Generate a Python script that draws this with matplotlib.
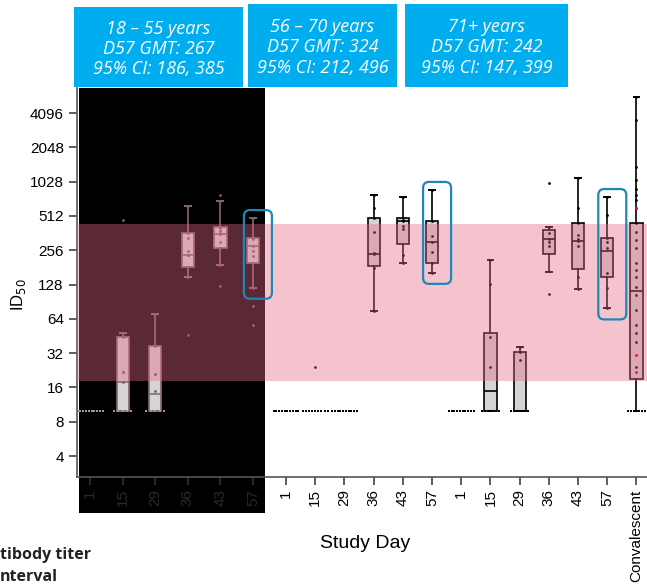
import matplotlib
matplotlib.use('Agg')
import matplotlib.pyplot as plt
import numpy as np
from matplotlib.patches import Rectangle, FancyBboxPatch
from matplotlib.transforms import IdentityTransform

# ---- data (ID50 values) ----
day_labels = ['1', '15', '29', '36', '43', '57'] * 3 + ['Convalescent']
med    = [10, 18, 14, 232, 354, 278, 10, 10, 10, 237, 461, 302, 10, 15, 10, 322, 309, 252, 112]
q1     = [10, 10, 10, 182, 267, 198, 10, 10, 10, 186, 290, 198, 10, 10, 10, 237, 175, 149, 19]
q3     = [10, 44, 37, 362, 410, 328, 10, 10, 10, 491, 491, 461, 10, 48, 33, 385, 443, 328, 443]
whislo = [10, 10, 10, 149, 190, 120, 10, 10, 10, 75, 198, 162, 10, 10, 10, 165, 117, 79, 10]
whishi = [10, 48, 70, 626, 690, 490, 10, 10, 10, 782, 750, 866, 10, 210, 36, 410, 1100, 750, 5680]
floor_n = [10, 5, 5, 0, 0, 0, 10, 9, 10, 0, 0, 0, 10, 6, 7, 0, 0, 0, 7]
points = [
  [],
  [44, 22, 22, 18, 48, 471],
  [21, 21, 15, 37, 70],
  [232, 232, 250, 330, 360, 626, 149, 46],
  [354, 380, 400, 300, 267, 690, 780, 190, 124],
  [278, 250, 230, 320, 490, 120, 83, 57],
  [],
  [24],
  [],
  [370, 237, 240, 600, 180, 75, 782, 491],
  [393, 232, 461, 491, 750, 198, 420],
  [340, 247, 302, 866, 162, 461, 198],
  [],
  [129, 44, 24, 210],
  [28, 36, 33],
  [996, 106, 410, 360, 300, 280, 322],
  [1100, 600, 350, 310, 320, 280, 117, 150, 443],
  [750, 520, 330, 300, 270, 160, 120, 80],
  [3560, 1380, 1060, 890, 780, 705, 440, 372, 315, 267, 197, 171, 150, 123,
   104, 76, 56, 48, 40, 24, 5680],
]
conv_red = [596, 31, 22]
LLOQ = 10
band = (18.4, 436)
highlight = [5, 11, 17]  # day 57 of each age group
groups = ['18 \u2013 55 years\nD57 GMT: 267\n95% CI: 186, 385',
          '56 \u2013 70 years\nD57 GMT: 324\n95% CI: 212, 496',
          '71+ years\nD57 GMT: 242\n95% CI: 147, 399']
yticks = [4, 8, 16, 32, 64, 128, 256, 512, 1024, 2048, 4096]
ytick_labels = ['4', '8', '16', '32', '64', '128', '256', '512', '1028', '2048', '4096']

W, H = 647, 587
fig = plt.figure(figsize=(W / 100, H / 100), dpi=100)
plt.rcParams['font.family'] = ['Liberation Sans', 'DejaVu Sans']


def fr(x0, y0, x1, y1):
  """pixel box (top-left origin) -> figure fraction rect"""
  return [x0 / W, 1 - y1 / H, (x1 - x0) / W, (y1 - y0) / H]


ax = fig.add_axes(fr(77, 88, 647, 477))
# first age group panel was pasted at a slightly wider spacing
pos = np.r_[np.arange(6) * 1.115 - 0.71, np.arange(6, 19)]
g1 = np.arange(19) < 6

ax.set_yscale('log', base=2)
ax.set_ylim(2.62, 6790)
ax.set_xlim(-1.16, 18.36)

# black overlay on first group (drawn under everything)
ax.add_patch(Rectangle((0.004, -0.093), 0.326, 1.093, transform=ax.transAxes,
                       facecolor='black', edgecolor='none', zorder=0, clip_on=False))

stats, bpos, bg1 = [], [], []
for i in range(19):
  if q3[i] <= LLOQ:
    continue
  stats.append(dict(med=med[i], q1=q1[i], q3=q3[i], whislo=whislo[i],
                    whishi=whishi[i], fliers=[]))
  bpos.append(pos[i]); bg1.append(g1[i])
for s, p, dark in zip(stats, bpos, bg1):
  lc = '#8a6870' if dark else 'black'
  ax.bxp([s], positions=[p], widths=0.42, capwidths=0.2, patch_artist=True,
         manage_ticks=False, zorder=2,
         boxprops=dict(facecolor='#d4d4d4', edgecolor=lc, lw=1.2),
         whiskerprops=dict(color=lc, lw=1.2), capprops=dict(color=lc, lw=1.4),
         medianprops=dict(color=lc, lw=1.2))

for i in range(19):
  pc = '#7a6066' if g1[i] else 'black'
  if points[i]:
    ax.scatter(np.full(len(points[i]), pos[i]), points[i], s=4, color=pc,
               zorder=2.2, linewidths=0)
  n = floor_n[i]
  if n:
    spread = 0.85 if n >= 9 else 0.6
    xs = pos[i] + np.linspace(-spread / 2, spread / 2, n)
    ax.scatter(xs, np.full(n, LLOQ), s=2.5, marker='s', linewidths=0, zorder=2.2,
               color='#9a9a9a' if g1[i] else 'black')
ax.scatter(np.full(len(conv_red), pos[18]), conv_red, s=5, color='red',
           zorder=2.3, linewidths=0)

ax.axhspan(band[0], band[1], color=(230 / 255, 105 / 255, 130 / 255), alpha=0.4,
           lw=0, zorder=3)

# blue highlight around day 57
for i in highlight:
  x0, y0 = ax.transData.transform((pos[i], whislo[i]))
  _, y1 = ax.transData.transform((pos[i], whishi[i]))
  ax.add_patch(FancyBboxPatch((x0 - 9, y0 - 11), 28, (y1 - y0) + 19,
                              boxstyle='round,pad=0,rounding_size=6',
                              transform=IdentityTransform(), fill=False,
                              edgecolor='#1f86b8', lw=1.6, zorder=4))

ax.set_yticks(yticks)
ax.set_yticklabels(ytick_labels)
ax.yaxis.set_minor_locator(matplotlib.ticker.NullLocator())
ax.set_xticks(pos)
ax.set_xticklabels(day_labels, rotation=90)
ax.tick_params(axis='both', labelsize=11, length=6, width=1.1, color='#333333')
ax.tick_params(axis='x', pad=3)
for k, lab in enumerate(ax.get_xticklabels()):
  if g1[k]:
    lab.set_color('#2a2a2a')
for k, t in enumerate(ax.xaxis.get_major_ticks()):
  if g1[k]:
    t.tick1line.set_color('#2a2a2a')
for s in ['top', 'right']:
  ax.spines[s].set_visible(False)
for s in ['left', 'bottom']:
  ax.spines[s].set_color('#555555')
  ax.spines[s].set_linewidth(1.2)

fig.text(18 / W, 1 - 295 / H, 'ID$_{50}$', rotation=90, ha='center', va='center',
         fontsize=12)
fig.text(365 / W, 1 - 543 / H, 'Study Day', ha='center', va='center', fontsize=14)

# age-group header boxes
for txt, (x0, y0, x1, y1) in zip(groups, [(74, 7, 243, 87), (248, 4, 397, 87),
                                          (405, 4, 568, 87)]):
  fig.patches.append(Rectangle(fr(x0, y0, x1, y1)[:2], (x1 - x0) / W, (y1 - y0) / H,
                               transform=fig.transFigure, facecolor='#00aeef',
                               edgecolor='none', zorder=0))
  fig.text((x0 + x1) / 2 / W, 1 - (y0 + y1 + 4) / 2 / H, txt, ha='center',
           va='center', color='white', fontsize=13, style='italic',
           family=['Open Sans', 'DejaVu Sans'], linespacing=1.15)

fig.text(0, 1 - 555 / H, 'tibody titer', ha='left', va='center', fontsize=11.5,
         weight='bold', family=['Open Sans', 'DejaVu Sans'], color='#222222')
fig.text(0, 1 - 577 / H, 'nterval', ha='left', va='center', fontsize=11.5,
         weight='bold', family=['Open Sans', 'DejaVu Sans'], color='#222222')

fig.savefig('out.png', dpi=100)
